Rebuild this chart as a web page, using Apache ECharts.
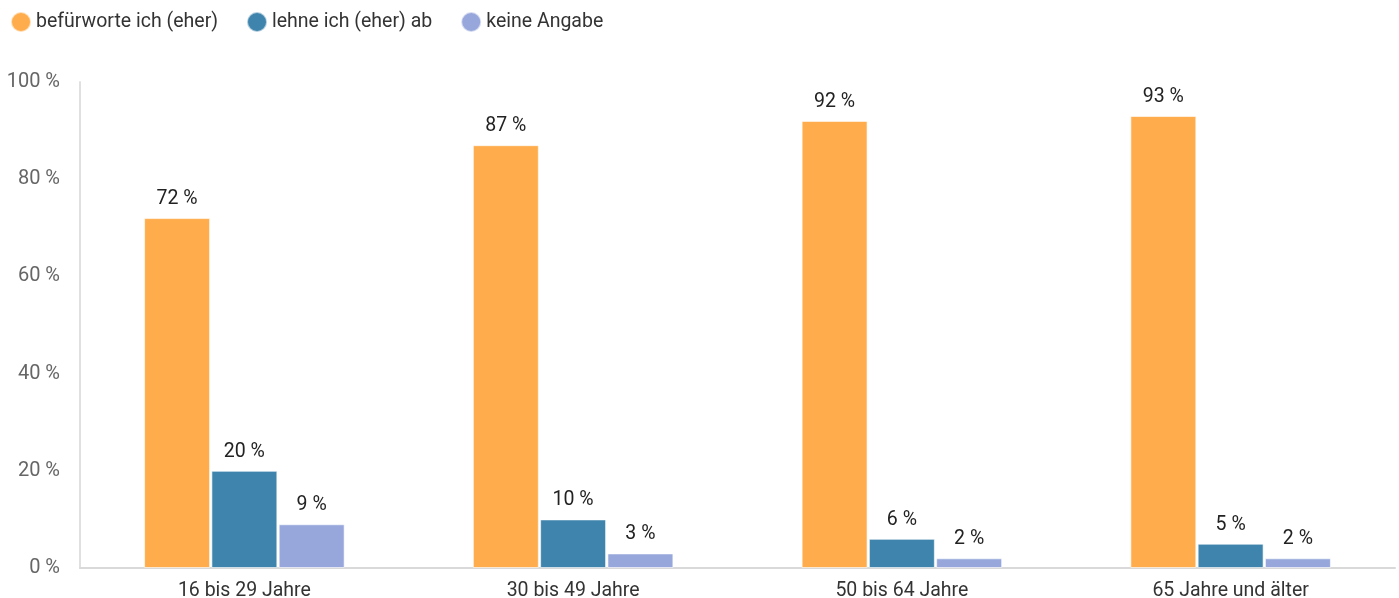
<!DOCTYPE html>
<html>
<head>
<meta charset="utf-8">
<script src="https://cdn.jsdelivr.net/npm/echarts@6/dist/echarts.min.js"></script>
<style>
  html, body { margin: 0; padding: 0; background: #fff; }
  #chart { width: 1399px; height: 598px; }
</style>
</head>
<body>
<div id="chart"></div>
<script>
// Altersgruppen und Antworten in Prozent
const categories = ['16 bis 29 Jahre', '30 bis 49 Jahre', '50 bis 64 Jahre', '65 Jahre und älter'];
const seriesNames = ['befürworte ich (eher)', 'lehne ich (eher) ab', 'keine Angabe'];
const befuerworte = [72, 87, 92, 93];
const lehneAb = [20, 10, 6, 5];
const keineAngabe = [9, 3, 2, 2];
const yTicks = [0, 20, 40, 60, 80, 100];

const colors = ['#FFAD4C', '#3F84AD', '#97A7DC'];
const font = 'Roboto, "Noto Sans", sans-serif';

const chart = echarts.init(document.getElementById('chart'));

function barSeries(name, data, color) {
  return {
    name: name,
    type: 'bar',
    data: data,
    barGap: '2%',
    barCategoryGap: '39%',
    itemStyle: { color: color, borderColor: 'rgba(255,255,255,0.6)', borderWidth: 1 },
    label: {
      show: true,
      position: 'top',
      distance: 9,
      formatter: p => p.value + ' %',
      color: '#222',
      fontFamily: font,
      fontSize: 19.5
    }
  };
}

chart.setOption({
  animation: false,
  textStyle: { fontFamily: font },
  legend: {
    left: 10,
    top: 11,
    padding: 0,
    itemWidth: 20,
    itemHeight: 20,
    itemGap: 28,
    icon: 'circle',
    textStyle: { color: '#333', fontSize: 19.5, fontFamily: font },
    data: seriesNames
  },
  grid: { left: 80, right: 4, top: 82, bottom: 30, containLabel: false, outerBoundsMode: 'none' },
  xAxis: {
    type: 'category',
    data: categories,
    axisLine: { lineStyle: { color: '#d9d9d9', width: 2 } },
    axisTick: { show: false },
    axisLabel: { color: '#333', fontSize: 19.5, fontFamily: font, margin: 13 }
  },
  yAxis: {
    type: 'value',
    min: yTicks[0],
    max: yTicks[yTicks.length - 1],
    interval: 20,
    axisLine: { show: true, lineStyle: { color: '#e0e0e0', width: 2 } },
    axisTick: { show: false },
    splitLine: { show: false },
    axisLabel: {
      color: '#666',
      fontSize: 20,
      fontFamily: font,
      margin: 20,
      formatter: v => v + ' %'
    }
  },
  series: [
    barSeries(seriesNames[0], befuerworte, colors[0]),
    barSeries(seriesNames[1], lehneAb, colors[1]),
    barSeries(seriesNames[2], keineAngabe, colors[2])
  ]
});
</script>
</body>
</html>
